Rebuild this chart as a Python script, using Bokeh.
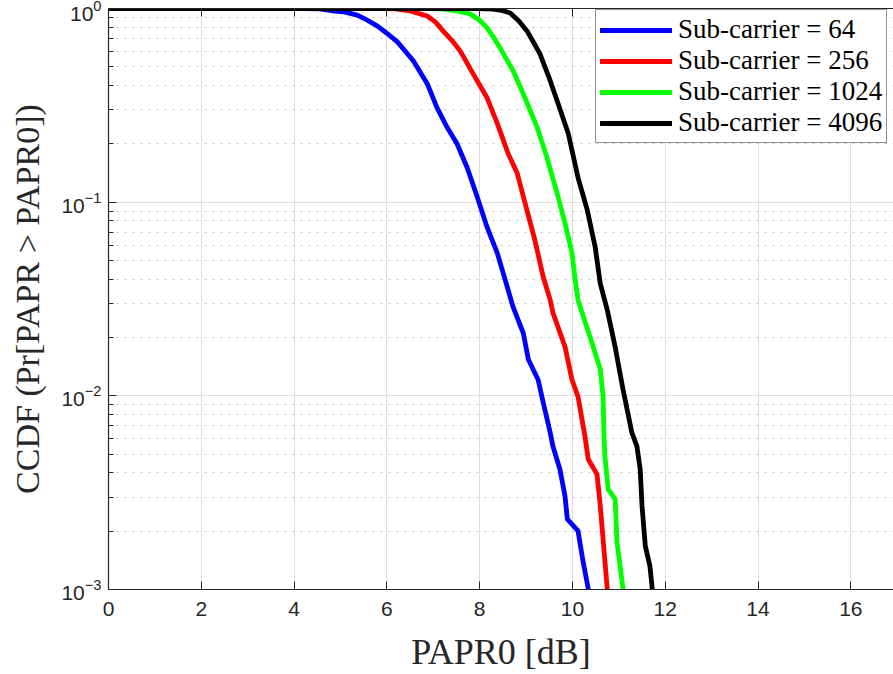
from bokeh.plotting import figure
from bokeh.models import FixedTicker, LinearAxis, Legend, LegendItem, Range1d
from bokeh.embed import file_html
from bokeh.resources import INLINE

# ---- data ----
labels = ["Sub-carrier = 64", "Sub-carrier = 256", "Sub-carrier = 1024", "Sub-carrier = 4096"]
colors = ["#0000ff", "#ff0000", "#00ff00", "#000000"]

x_64 = [0, 4.2, 4.55, 4.84, 5.1, 5.36, 5.58, 5.79, 6.0, 6.22, 6.57, 6.87, 7.08, 7.30, 7.51, 7.73, 7.95, 8.16, 8.38,
        8.55, 8.72, 8.94, 9.05, 9.26, 9.37, 9.52, 9.58, 9.73, 9.84, 9.89, 10.12, 10.23, 10.34, 10.37]
y_64 = [1.0, 1.0, 0.995, 0.971, 0.958, 0.925, 0.87, 0.813, 0.745, 0.675, 0.537, 0.409, 0.308, 0.243, 0.201, 0.151, 0.106, 0.0743, 0.0546,
        0.0397, 0.0288, 0.0211, 0.0154, 0.0121, 0.00923, 0.00647, 0.00548, 0.00418, 0.00303, 0.00231, 0.00201, 0.00139, 0.00101, 0.0009]

x_256 = [0, 5.9, 6.18, 6.50, 6.87, 7.05, 7.21, 7.40, 7.58, 7.86, 8.16, 8.38, 8.61, 8.81, 8.98, 9.19, 9.37, 9.52,
         9.58, 9.84, 9.99, 10.12, 10.27, 10.34, 10.53, 10.60, 10.66, 10.75, 10.77]
y_256 = [1.0, 1.0, 0.995, 0.971, 0.915, 0.85, 0.766, 0.685, 0.604, 0.460, 0.346, 0.255, 0.179, 0.141, 0.0987, 0.0637, 0.0411, 0.0313,
         0.0268, 0.0179, 0.0121, 0.00991, 0.00617, 0.00470, 0.00393, 0.00270, 0.00182, 0.00101, 0.0009]

x_1024 = [0, 6.9, 7.15, 7.51, 7.80, 8.0, 8.16, 8.30, 8.44, 8.72, 8.94, 9.24, 9.45, 9.67, 9.84, 9.99, 10.06, 10.12,
          10.21, 10.42, 10.60, 10.66, 10.68, 10.70, 10.77, 10.92, 10.96, 11.09, 11.11]
y_1024 = [1.0, 1.0, 0.995, 0.971, 0.937, 0.87, 0.794, 0.71, 0.626, 0.477, 0.363, 0.243, 0.170, 0.111, 0.0779, 0.0546, 0.0397, 0.0313,
          0.0268, 0.0188, 0.0137, 0.00991, 0.00617, 0.00487, 0.00330, 0.00293, 0.00176, 0.00101, 0.0009]

x_4096 = [0, 8.0, 8.29, 8.50, 8.66, 8.85, 9.02, 9.16, 9.30, 9.52, 9.69, 9.91, 10.12, 10.32, 10.49, 10.60, 10.75, 10.92, 11.09,
          11.28, 11.39, 11.46, 11.50, 11.57, 11.67, 11.72, 11.74]
y_4096 = [1.0, 1.0, 0.993, 0.975, 0.948, 0.86, 0.766, 0.67, 0.583, 0.424, 0.323, 0.226, 0.134, 0.0909, 0.0586, 0.038, 0.0278, 0.0179, 0.0108,
          0.00647, 0.00548, 0.00418, 0.00270, 0.00168, 0.00132, 0.00101, 0.0009]

x_ticks = [0, 2, 4, 6, 8, 10, 12, 14, 16]
y_ticks = [1e-3, 1e-2, 1e-1, 1.0]
y_minor = [m * 10.0 ** e for e in (-3, -2, -1) for m in range(2, 10)]

series_x = [x_64, x_256, x_1024, x_4096]
series_y = [y_64, y_256, y_1024, y_4096]

# ---- figure ----
DARK = "#262626"
p = figure(width=893, height=674, y_axis_type="log",
           x_range=Range1d(0, 16.92), y_range=Range1d(1e-3, 1.0),
           output_backend="svg", toolbar_location=None,
           min_border_left=108, min_border_right=0, min_border_top=8, min_border_bottom=83)
p.outline_line_color = None
p.background_fill_color = "white"
p.border_fill_color = "white"

renderers = []
for xs, ys, c in zip(series_x, series_y, colors):
    r = p.line(xs, ys, line_color=c, line_width=4.8, line_join="round", line_cap="round")
    renderers.append(r)

# axes
xt = FixedTicker(ticks=x_ticks)
yt = FixedTicker(ticks=y_ticks, minor_ticks=y_minor)
p.xaxis.ticker = xt
p.yaxis.ticker = yt
for ax in (p.xaxis[0], p.yaxis[0]):
    ax.major_label_text_font = "Liberation Sans"
    ax.major_label_text_font_size = "21px"
    ax.major_label_text_color = DARK
    ax.axis_line_color = DARK
    ax.axis_line_width = 1.2
    ax.major_tick_line_color = DARK
    ax.minor_tick_line_color = DARK
    ax.major_tick_in = 8
    ax.major_tick_out = 0
    ax.minor_tick_in = 5
    ax.minor_tick_out = 0
    ax.axis_label_text_font = "Liberation Serif"
    ax.axis_label_text_font_style = "normal"
    ax.axis_label_text_color = DARK
p.xaxis.minor_tick_line_color = None
p.xaxis.major_label_standoff = 12
p.yaxis.major_label_standoff = 7
p.xaxis.axis_label = "PAPR0 [dB]"
p.yaxis.axis_label = "CCDF (Pr[PAPR > PAPR0])"
p.xaxis.axis_label_text_font_size = "36px"
p.yaxis.axis_label_text_font_size = "34px"
p.xaxis.axis_label_standoff = 13
p.yaxis.axis_label_standoff = 12

top = LinearAxis(ticker=xt, major_label_overrides={t: "" for t in x_ticks},
                 major_label_standoff=0, major_label_text_font_size="1px",
                 major_tick_in=8, major_tick_out=0, minor_tick_line_color=None,
                 axis_line_color=DARK, axis_line_width=1.2, major_tick_line_color=DARK)
p.add_layout(top, "above")

# grids
p.xgrid.grid_line_color = "#dedede"
p.xgrid.grid_line_width = 1
p.ygrid.grid_line_color = "#dedede"
p.ygrid.grid_line_width = 1
p.ygrid.minor_grid_line_color = "#c4c4c4"
p.ygrid.minor_grid_line_dash = "2 6"
p.ygrid.minor_grid_line_width = 1

legend = Legend(items=[LegendItem(label=l, renderers=[r]) for l, r in zip(labels, renderers)],
                location=(487, 446), label_text_font="Liberation Serif", label_text_font_size="27px",
                label_text_color="#000000", glyph_width=72, glyph_height=26, label_height=26,
                spacing=-3, padding=4, margin=0, label_standoff=6,
                border_line_color=DARK, border_line_width=1, background_fill_alpha=1.0)
p.add_layout(legend)

open("out.html", "w").write(file_html(p, INLINE))
